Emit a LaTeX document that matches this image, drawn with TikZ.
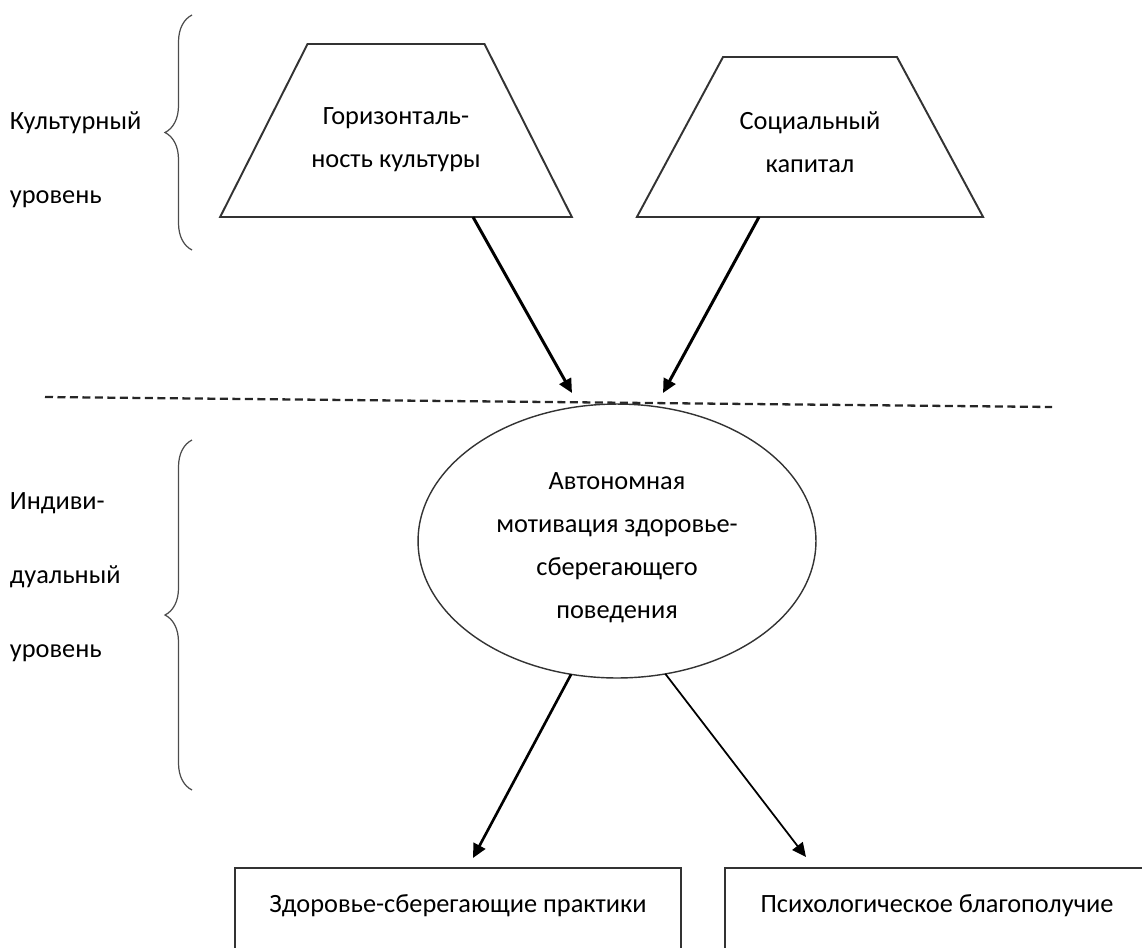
\documentclass[tikz,border=0pt]{standalone}
\usepackage{fontspec}
\setmainfont{Carlito}
\usepackage{tikz}
\usetikzlibrary{positioning,arrows.meta,shapes,decorations.pathreplacing,calc}

\begin{document}
\begin{tikzpicture}[x={(0.02cm,0cm)},y={(0cm,-0.02cm)},
  every node/.style={font=\fontsize{15}{24.5}\selectfont, align=flush center, outer sep=0pt},
  trap/.style={draw=black!80, line width=1.1pt, trapezium, inner sep=0pt},
  ell/.style={draw=black!80, line width=0.8pt, ellipse, inner sep=0pt, minimum width=7.96cm, minimum height=5.48cm},
  box/.style={draw=black!80, line width=1.1pt, anchor=north west, text height=0.7cm, text depth=1.5cm, inner ysep=0.18cm},
  lvl/.style={font=\fontsize{15}{42}\selectfont, align=left, anchor=west},
  arr/.style={-{Triangle[length=0.28cm,width=0.26cm]}, line width=1.7pt},
  brc/.style={decorate, decoration={brace, amplitude=0.54cm}, line width=0.7pt, black!70},
  dsh/.style={black!85, line width=1.3pt, dash pattern=on 0.16cm off 0.09cm}]
\clip (0,0) rectangle (1142,947);
% levels
\node[lvl] (cult) at (4,160) {Культурный\\уровень};
\node[lvl] (indiv) at (4,577) {Индиви-\\дуальный\\уровень};
\draw[brc] (192,250) -- (192,15);
\draw[brc] (192,790) -- (192,440);
% cultural level
\node[trap, trapezium angle=63.2, text width=3.54cm, text height=1.6cm, text depth=1.86cm] (trapL) at (396,130.5) {Горизонталь-\\ность культуры};
\node[trap, trapezium angle=61.7, text width=3.48cm, text height=1.44cm, text depth=1.76cm] (trapR) at (810,137) {Социальный\\капитал};
\coordinate (dashL) at (45,397);
\coordinate (dashR) at (1052,407);
\draw[dsh] (dashL) -- (dashR);
\coordinate (hitL) at (572,393);
\coordinate (hitR) at (663,393);
\draw[arr] ([xshift=1.54cm]trapL.bottom side) -- (hitL);
\draw[arr] ([xshift=-1.02cm]trapR.bottom side) -- (hitR);
% individual level
\node[ell, text width=5.2cm, text height=0.62cm, text depth=2.7cm] (motiv) at (617,541) {Автономная\\мотивация здоровье-\\сберегающего\\поведения};
\node[box, minimum width=8.92cm] (lbox) at (235,868) {Здоровье-сберегающие практики};
\node[box, minimum width=8.48cm] (rbox) at (725,868) {Психологическое благополучие};
\draw[arr, line width=1.5pt] (motiv.251) -- ([xshift=0.3cm,yshift=0.2cm]lbox.north);
\draw[arr, line width=1pt] (motiv.290) -- ([xshift=1.62cm,yshift=0.22cm]rbox.north west);
\end{tikzpicture}
\end{document}
